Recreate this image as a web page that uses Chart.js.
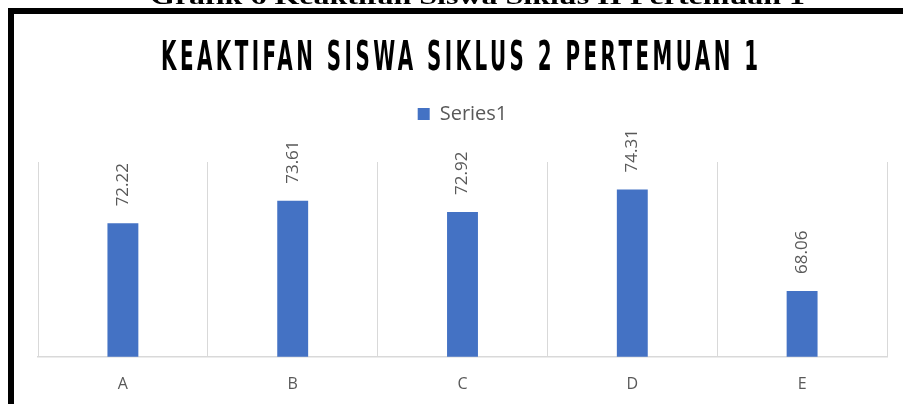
<!DOCTYPE html>
<html>
<head>
<meta charset="utf-8">
<script src="https://cdn.jsdelivr.net/npm/chart.js@4/dist/chart.umd.min.js"></script>
<style>
  html, body { margin: 0; padding: 0; background: #ffffff; overflow: hidden; }
  #wrap { width: 903px; height: 404px; position: relative; overflow: hidden; }
</style>
</head>
<body>
<div id="wrap"><canvas id="c" width="903" height="412"></canvas></div>
<script>
const CAPTION = 'Grafik 6 Keaktifan Siswa Siklus II Pertemuan 1';
const TITLE = 'KEAKTIFAN SISWA SIKLUS 2 PERTEMUAN 1';
const categories = ['A', 'B', 'C', 'D', 'E'];
const seriesName = 'Series1';
const series1 = [72.22, 73.61, 72.92, 74.31, 68.06];
const yMin = 64;
const yMax = 76;

const BAR_COLOR = '#4472C4';
const TEXT_GRAY = '#595959';
const GRID_GRAY = '#D9D9D9';

const legendGapPlugin = {
  id: 'legendGap',
  beforeInit(chart) {
    const origFit = chart.legend.fit;
    chart.legend.fit = function () {
      origFit.bind(chart.legend)();
      this.height += 28;
    };
  }
};

const decorPlugin = {
  id: 'decor',
  beforeDraw(chart) {
    const ctx = chart.ctx;
    ctx.save();
    ctx.fillStyle = '#ffffff';
    ctx.fillRect(0, 0, chart.width, chart.height);
    // outer frame (extends beyond right/bottom of view)
    ctx.strokeStyle = '#000000';
    ctx.lineWidth = 6;
    ctx.strokeRect(11, 11, 1200, 1200);
    // cut-off caption above the frame
    ctx.fillStyle = '#000000';
    ctx.font = 'bold 24px "Liberation Serif"';
    ctx.textAlign = 'left';
    ctx.textBaseline = 'alphabetic';
    const cw = ctx.measureText(CAPTION).width;
    ctx.translate(150, 4);
    ctx.scale(655 / cw, 1);
    ctx.fillText(CAPTION, 0, 0);
    ctx.restore();
    // chart title (condensed look)
    ctx.save();
    ctx.fillStyle = '#000000';
    ctx.font = 'bold 40px "DejaVu Sans"';
    ctx.letterSpacing = '7px';
    ctx.textAlign = 'left';
    ctx.textBaseline = 'alphabetic';
    const tw = ctx.measureText(TITLE).width - 7;
    const target = 597;
    ctx.translate(161, 70);
    ctx.scale(target / tw, 1);
    ctx.fillText(TITLE, 0, 0);
    ctx.restore();
  },
  afterDatasetsDraw(chart) {
    const ctx = chart.ctx;
    const meta = chart.getDatasetMeta(0);
    const data = chart.data.datasets[0].data;
    ctx.save();
    ctx.fillStyle = TEXT_GRAY;
    ctx.font = '17px "Open Sans"';
    ctx.textAlign = 'left';
    ctx.textBaseline = 'middle';
    meta.data.forEach((bar, i) => {
      ctx.save();
      ctx.translate(bar.x, bar.y - 17);
      ctx.rotate(-Math.PI / 2);
      ctx.fillText(data[i].toFixed(2), 0, 0);
      ctx.restore();
    });
    ctx.restore();
  }
};

new Chart(document.getElementById('c'), {
  type: 'bar',
  data: {
    labels: categories,
    datasets: [{
      label: seriesName,
      data: series1,
      backgroundColor: BAR_COLOR,
      borderWidth: 0,
      categoryPercentage: 1.0,
      barPercentage: 0.182
    }]
  },
  options: {
    responsive: false,
    animation: false,
    devicePixelRatio: 1,
    layout: { padding: { left: 38, right: 16, top: 94, bottom: 0 } },
    plugins: {
      title: { display: false },
      tooltip: { enabled: false },
      legend: {
        display: true,
        position: 'top',
        labels: {
          boxWidth: 12,
          boxHeight: 12,
          color: TEXT_GRAY,
          font: { family: '"Open Sans"', size: 20 },
          padding: 10
        }
      }
    },
    scales: {
      x: {
        grid: { display: true, color: GRID_GRAY, lineWidth: 1, drawTicks: false, offset: true },
        border: { display: true, color: GRID_GRAY, width: 1.5 },
        ticks: { color: TEXT_GRAY, font: { family: '"Open Sans"', size: 16 }, padding: 18 }
      },
      y: {
        display: false,
        min: yMin,
        max: yMax
      }
    }
  },
  plugins: [legendGapPlugin, decorPlugin]
});
</script>
</body>
</html>
